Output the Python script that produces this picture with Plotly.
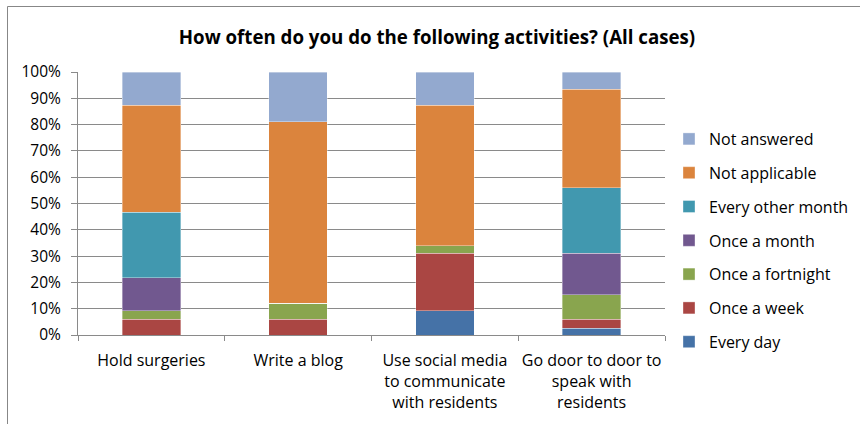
import plotly.graph_objects as go

categories = [
    "Hold surgeries",
    "Write a blog",
    "Use social media<br>to communicate<br>with residents",
    "Go door to door to<br>speak with<br>residents",
]

series_names = ["Every day", "Once a week", "Once a fortnight", "Once a month",
                "Every other month", "Not applicable", "Not answered"]

every_day = [0.0, 0.0, 9.2, 2.6]
once_a_week = [5.9, 5.9, 21.9, 3.3]
once_a_fortnight = [3.3, 6.2, 2.9, 9.4]
once_a_month = [12.5, 0.0, 0.0, 15.7]
every_other_month = [25.0, 0.0, 0.0, 24.9]
not_applicable = [40.7, 69.0, 53.3, 37.6]
not_answered = [12.6, 18.9, 12.7, 6.5]

series_values = [every_day, once_a_week, once_a_fortnight, once_a_month,
                 every_other_month, not_applicable, not_answered]
colors = ["#4572A7", "#AA4643", "#89A54E", "#71588F", "#4198AF", "#DB843D", "#93A9CF"]

FONT = "Open Sans"

fig = go.Figure()
n = len(series_names)
for i, (name, vals, col) in enumerate(zip(series_names, series_values, colors)):
    fig.add_trace(go.Bar(
        x=categories, y=[v / 100 for v in vals], name=name,
        marker=dict(color=col, line=dict(color="rgba(255,255,255,0.6)", width=0.6)),
        legendgroup=name, legendrank=n - i,
    ))

W, H = 860, 424
L, R, T, B = 78, 665, 72, 335
pw, ph = R - L, B - T

def px(x):
    return (x - L) / pw

def py(y):
    return (B - y) / ph

fig.update_layout(
    width=W, height=H,
    margin=dict(l=L, r=W - R, t=T, b=H - B, pad=0, autoexpand=False),
    barmode="stack", bargap=0.6,
    paper_bgcolor="white", plot_bgcolor="white",
    font=dict(family=FONT, size=16, color="#000000"),
    title=dict(text="<b>How often do you do the following activities? (All cases)</b>",
               x=437 / W, xanchor="center", xref="container", y=1 - 37 / H, yanchor="middle",
               font=dict(family=FONT, size=18.7, color="#000000")),
    showlegend=True,
    legend=dict(x=px(669), xanchor="left", y=py(122), yanchor="top",
                traceorder="grouped", tracegroupgap=10, maxheight=300,
                font=dict(family=FONT, size=16), itemwidth=30,
                bgcolor="rgba(0,0,0,0)"),
    yaxis=dict(range=[0, 1], tickvals=[i / 10 for i in range(11)], tickformat=".0%",
               showgrid=True, gridcolor="#8a8a8a", gridwidth=1,
               showline=True, linecolor="#8a8a8a", linewidth=1,
               ticks="outside", ticklen=6, tickcolor="#8a8a8a", ticklabelstandoff=7,
               zeroline=False, automargin=False, tickfont=dict(family=FONT, size=15.5)),
    xaxis=dict(showline=True, linecolor="#8a8a8a", linewidth=1,
               ticks="outside", ticklen=5, tickcolor="#8a8a8a", tickson="boundaries",
               ticklabelstandoff=11, tickangle=0, automargin=False,
               tickfont=dict(family=FONT, size=16), showgrid=False),
    shapes=[dict(type="rect", xref="paper", yref="paper",
                 x0=px(7.5), x1=px(880), y0=py(440), y1=py(6.5),
                 line=dict(color="#878787", width=1), fillcolor="rgba(0,0,0,0)", layer="below")],
)

fig.write_html("out.html")
